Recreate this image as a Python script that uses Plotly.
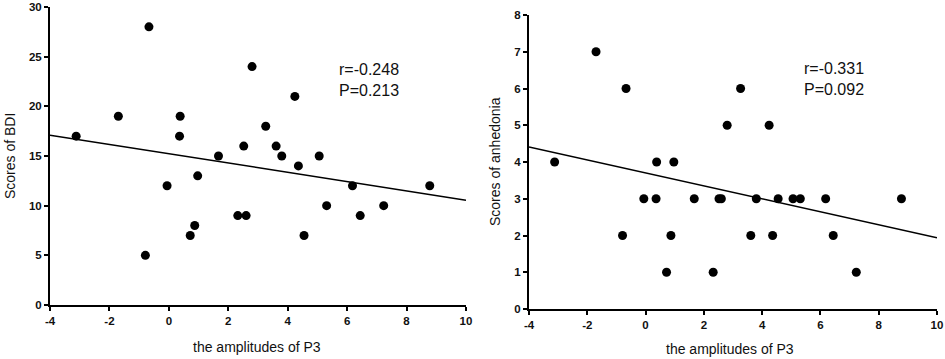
import plotly.graph_objects as go

# Data
p3_amplitude = [-3.12, -1.70, -0.67, -0.79, -0.06, 0.38, 0.36, 0.72, 0.87, 0.97,
                1.67, 2.32, 2.60, 2.52, 2.80, 3.26, 3.61, 3.80, 4.24, 4.36,
                4.55, 5.06, 5.31, 6.18, 6.44, 7.23, 8.78]
bdi_scores = [17, 19, 28, 5, 12, 19, 17, 7, 8, 13,
              15, 9, 9, 16, 24, 18, 16, 15, 21, 14,
              7, 15, 10, 12, 9, 10, 12]
anhedonia_scores = [4, 7, 6, 2, 3, 4, 3, 1, 2, 4,
                    3, 1, 3, 3, 5, 6, 2, 3, 5, 2,
                    3, 3, 3, 3, 2, 1, 3]
fit_x = [-4, 10]
fit_bdi = [17.1, 10.55]
fit_anhedonia = [4.41, 1.94]

x_ticks = [-4, -2, 0, 2, 4, 6, 8, 10]
bdi_ticks = [0, 5, 10, 15, 20, 25, 30]
anh_ticks = [0, 1, 2, 3, 4, 5, 6, 7, 8]

W, H = 945, 359
FONT = "Liberation Sans, Arial, sans-serif"

def fx(px):
    return px / W

def fy(py):
    return 1 - py / H

def bold(vals):
    return ["<b>%g</b>" % v for v in vals]

fig = go.Figure()
fig.add_trace(go.Scatter(x=p3_amplitude, y=bdi_scores, mode="markers",
                         marker=dict(color="black", size=9), xaxis="x", yaxis="y",
                         showlegend=False, cliponaxis=False))
fig.add_trace(go.Scatter(x=fit_x, y=fit_bdi, mode="lines",
                         line=dict(color="black", width=1.5), xaxis="x", yaxis="y",
                         showlegend=False))
fig.add_trace(go.Scatter(x=p3_amplitude, y=anhedonia_scores, mode="markers",
                         marker=dict(color="black", size=9), xaxis="x2", yaxis="y2",
                         showlegend=False, cliponaxis=False))
fig.add_trace(go.Scatter(x=fit_x, y=fit_anhedonia, mode="lines",
                         line=dict(color="black", width=1.5), xaxis="x2", yaxis="y2",
                         showlegend=False))

axis_common = dict(showgrid=False, zeroline=False, showline=True, linecolor="black",
                   linewidth=2, ticks="outside", ticklen=4, tickwidth=1.5,
                   tickcolor="black", automargin=False, tickmode="array",
                   tickfont=dict(family=FONT, size=11.5, color="#111"))

fig.update_layout(
    width=W, height=H,
    margin=dict(l=0, r=0, t=0, b=0),
    paper_bgcolor="white", plot_bgcolor="white",
    xaxis=dict(domain=[fx(50), fx(466)], range=[-4, 10], anchor="y",
               tickvals=x_ticks, ticktext=bold(x_ticks), **axis_common),
    yaxis=dict(domain=[fy(305), fy(7)], range=[0, 30], anchor="x",
               tickvals=bdi_ticks, ticktext=bold(bdi_ticks), **axis_common),
    xaxis2=dict(domain=[fx(529), fx(937)], range=[-4, 10], anchor="y2",
                tickvals=x_ticks, ticktext=bold(x_ticks), **axis_common),
    yaxis2=dict(domain=[fy(309), fy(15)], range=[0, 8], anchor="x2",
                tickvals=anh_ticks, ticktext=bold(anh_ticks), **axis_common),
)

def ann(text, x, y, size, angle=0, xanchor="center"):
    fig.add_annotation(text=text, x=fx(x), y=fy(y), xref="paper", yref="paper",
                       showarrow=False, textangle=angle, xanchor=xanchor, yanchor="middle",
                       font=dict(family=FONT, size=size, color="#111"))

ann("the amplitudes of P3", 257, 347, 14)
ann("the amplitudes of P3", 730, 349, 14)
ann("Scores of BDI", 10, 156, 14, angle=-90)
ann("Scores of anhedonia", 495, 162, 14, angle=-90)
ann("r=-0.248<br>P=0.213", 337, 80, 16, xanchor="left")
ann("r=-0.331<br>P=0.092", 802, 79, 16, xanchor="left")

fig.write_html("out.html", config={"displayModeBar": False},
               post_script="document.body.style.margin='0';document.body.style.overflow='hidden';")
